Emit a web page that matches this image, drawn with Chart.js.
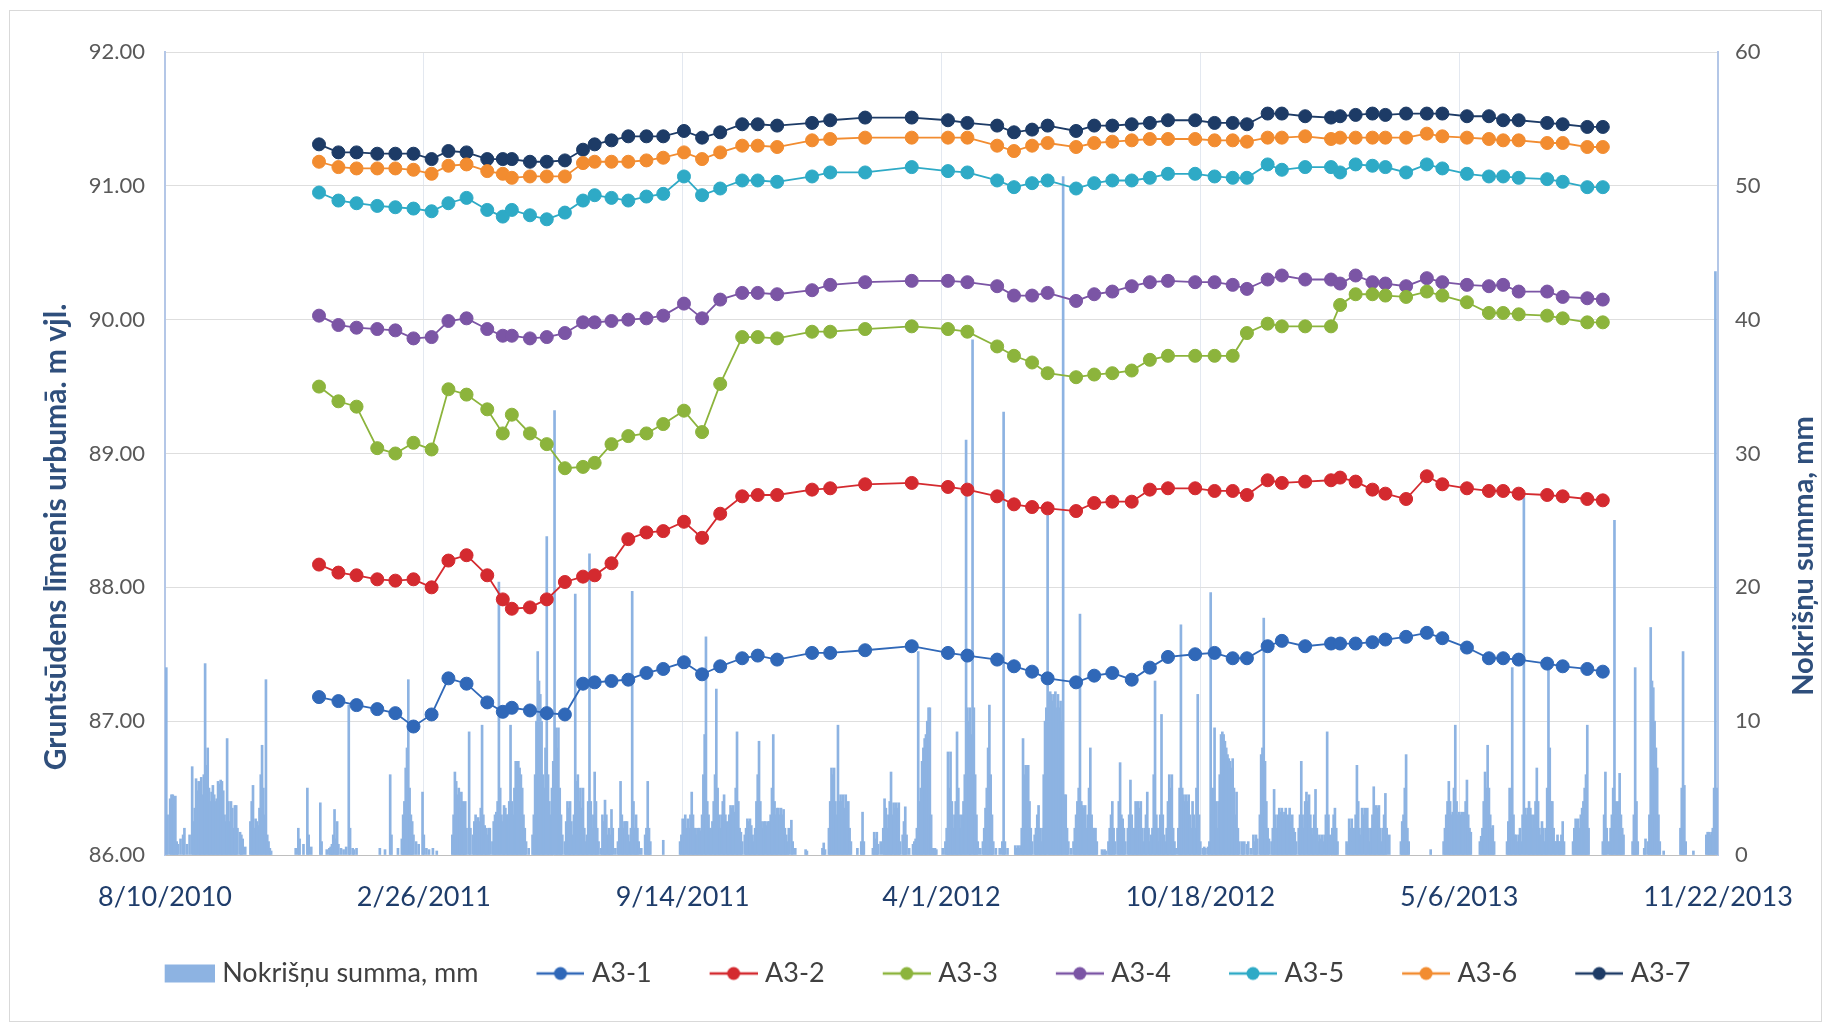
<!DOCTYPE html>
<html>
<head>
<meta charset="utf-8">
<script src="https://cdn.jsdelivr.net/npm/chart.js@4.4.1/dist/chart.umd.min.js"></script>
<style>
  html, body { margin: 0; padding: 0; background: #fff; }
  #wrap { width: 1831px; height: 1023px; }
</style>
</head>
<body>
<div id="wrap"><canvas id="gwChart" width="1831" height="1023"></canvas></div>
<script>
// observation dates of the wells
const obsDates = ['2010-12-07','2010-12-22','2011-01-05','2011-01-21','2011-02-04','2011-02-18','2011-03-04','2011-03-17','2011-03-31','2011-04-16',
  '2011-04-28','2011-05-05','2011-05-19','2011-06-01','2011-06-15','2011-06-29','2011-07-08','2011-07-21','2011-08-03','2011-08-17',
  '2011-08-30','2011-09-15','2011-09-29','2011-10-13','2011-10-30','2011-11-11','2011-11-26','2011-12-23','2012-01-06','2012-02-02',
  '2012-03-09','2012-04-06','2012-04-21','2012-05-14','2012-05-27','2012-06-10','2012-06-22','2012-07-14','2012-07-28','2012-08-11',
  '2012-08-26','2012-09-09','2012-09-23','2012-10-14','2012-10-29','2012-11-12','2012-11-23','2012-12-09','2012-12-20','2013-01-07',
  '2013-01-27','2013-02-03','2013-02-15','2013-02-28','2013-03-10','2013-03-26','2013-04-11','2013-04-23','2013-05-12','2013-05-29',
  '2013-06-09','2013-06-21','2013-07-13','2013-07-25','2013-08-13','2013-08-25'];

const a31 = [87.18,87.15,87.12,87.09,87.06,86.96,87.05,87.32,87.28,87.14,87.07,87.10,87.08,87.06,87.05,
  87.28,87.29,87.30,87.31,87.36,87.39,87.44,87.35,87.41,87.47,87.49,87.46,87.51,87.51,87.53,87.56,87.51,87.49,
  87.46,87.41,87.37,87.32,87.29,87.34,87.36,87.31,87.40,87.48,87.50,87.51,87.47,87.47,87.56,87.60,87.56,87.58,87.58,87.58,87.59,
  87.61,87.63,87.66,87.62,87.55,87.47,87.47,87.46,87.43,87.41,87.39,87.37];
const a32 = [88.17,88.11,88.09,88.06,88.05,88.06,88.00,88.20,88.24,88.09,87.91,87.84,87.85,87.91,88.04,
  88.08,88.09,88.18,88.36,88.41,88.42,88.49,88.37,88.55,88.68,88.69,88.69,88.73,88.74,88.77,88.78,88.75,88.73,
  88.68,88.62,88.60,88.59,88.57,88.63,88.64,88.64,88.73,88.74,88.74,88.72,88.72,88.69,88.80,88.78,88.79,88.80,88.82,88.79,88.73,
  88.70,88.66,88.83,88.77,88.74,88.72,88.72,88.70,88.69,88.68,88.66,88.65];
const a33 = [89.50,89.39,89.35,89.04,89.00,89.08,89.03,89.48,89.44,89.33,89.15,89.29,89.15,89.07,88.89,
  88.90,88.93,89.07,89.13,89.15,89.22,89.32,89.16,89.52,89.87,89.87,89.86,89.91,89.91,89.93,89.95,89.93,89.91,
  89.80,89.73,89.68,89.60,89.57,89.59,89.60,89.62,89.70,89.73,89.73,89.73,89.73,89.90,89.97,89.95,89.95,89.95,90.11,90.19,90.19,
  90.18,90.17,90.21,90.18,90.13,90.05,90.05,90.04,90.03,90.01,89.98,89.98];
const a34 = [90.03,89.96,89.94,89.93,89.92,89.86,89.87,89.99,90.01,89.93,89.88,89.88,89.86,89.87,89.90,
  89.98,89.98,89.99,90.00,90.01,90.03,90.12,90.01,90.15,90.20,90.20,90.19,90.22,90.26,90.28,90.29,90.29,90.28,
  90.25,90.18,90.18,90.20,90.14,90.19,90.21,90.25,90.28,90.29,90.28,90.28,90.26,90.23,90.30,90.33,90.30,90.30,90.27,90.33,90.28,
  90.27,90.25,90.31,90.28,90.26,90.25,90.26,90.21,90.21,90.17,90.16,90.15];
const a35 = [90.95,90.89,90.87,90.85,90.84,90.83,90.81,90.87,90.91,90.82,90.77,90.82,90.78,90.75,90.80,
  90.89,90.93,90.91,90.89,90.92,90.94,91.07,90.93,90.98,91.04,91.04,91.03,91.07,91.10,91.10,91.14,91.11,91.10,
  91.04,90.99,91.02,91.04,90.98,91.02,91.04,91.04,91.06,91.09,91.09,91.07,91.06,91.06,91.16,91.12,91.14,91.14,91.10,91.16,91.15,
  91.14,91.10,91.16,91.13,91.09,91.07,91.07,91.06,91.05,91.03,90.99,90.99];
const a36 = [91.18,91.14,91.13,91.13,91.13,91.12,91.09,91.15,91.16,91.11,91.09,91.06,91.07,91.07,91.07,
  91.17,91.18,91.18,91.18,91.19,91.21,91.25,91.20,91.25,91.30,91.30,91.29,91.34,91.35,91.36,91.36,91.36,91.36,
  91.30,91.26,91.30,91.32,91.29,91.32,91.33,91.34,91.35,91.35,91.35,91.34,91.34,91.33,91.36,91.36,91.37,91.35,91.36,91.36,91.36,
  91.36,91.36,91.39,91.37,91.36,91.35,91.34,91.34,91.32,91.32,91.29,91.29];
const a37 = [91.31,91.25,91.25,91.24,91.24,91.24,91.20,91.26,91.25,91.20,91.20,91.20,91.18,91.18,91.19,
  91.27,91.31,91.34,91.37,91.37,91.37,91.41,91.36,91.40,91.46,91.46,91.45,91.47,91.49,91.51,91.51,91.49,91.47,
  91.45,91.40,91.42,91.45,91.41,91.45,91.45,91.46,91.47,91.49,91.49,91.47,91.47,91.46,91.54,91.54,91.52,91.51,91.52,91.53,91.54,
  91.53,91.54,91.54,91.54,91.52,91.52,91.49,91.49,91.47,91.46,91.44,91.44];

// daily precipitation, mm: [day after 2010-08-10, mm]
const rainStart = '2010-08-10';
const rain = [
  [1,14],[2,3],[4,4.2],[5,4.5],[6,4.5],[7,3.8],[8,4.4],[9,1.0],[10,0.8],[12,1.2],[14,1.5],[15,2],[17,0.8],[19,1.5],
  [21,6.6],[22,2.5],[23,3.5],[24,5.7],[25,4.8],[26,5.5],[27,5.2],[28,5.8],[29,4.5],[30,6],[31,14.3],[32,6.7],[33,8],[34,5],
  [35,4],[36,4.7],[37,5.2],[38,4.5],[39,4],[40,4.2],[41,5.5],[42,5.3],[43,5.6],[44,5.5],[45,4.8],[46,3],[47,2.5],[48,8.7],
  [49,4],[50,2.5],[51,4],[52,3.5],[53,2],[54,3.7],[55,3.7],[56,2],[58,1.7],[59,1.5],[60,1.2],[62,0.6],[66,2.5],[67,4],
  [68,5.2],[69,2],[70,2.7],[71,2.5],[72,2.2],[73,3.5],[74,6],[75,8.2],[76,5],[77,3],[78,13.1],[79,1.5],[80,1],[81,0.5],[82,0.3],
  [101,0.5],[103,2],[104,1.2],[107,0.8],[110,5],[111,1.5],[113,0.6],[120,3.9],[121,1],[125,0.4],[127,0.5],[128,0.6],[129,0.8],
  [130,1.5],[131,3.4],[132,1.2],[133,2.5],[134,0.8],[136,0.5],[138,0.4],[140,0.6],[142,11.2],[143,2],[145,0.5],[146,0.4],[148,0.5],
  [166,0.5],[170,0.4],[174,6],[175,1.5],[180,0.5],[183,1.2],[184,3],[185,4],[186,6.5],[187,8],[188,13.1],[189,5],[190,3],[191,2.5],
  [192,1.5],[194,1],[196,0.8],[199,4.7],[200,1.5],[202,0.5],[204,0.4],[207,0.5],[210,0.3],
  [222,1.5],[223,3],[224,6.2],[225,5.5],[226,4.5],[227,5],[228,3.5],[229,4.7],[230,4],[231,2.5],[232,4],[233,2],[235,9.2],[236,2],
  [238,1.5],[239,2.5],[240,3],[241,2.5],[242,2.8],[243,2.5],[244,3.5],[245,9.7],[246,3],[247,2.2],[248,2],[249,1.5],[250,2],[251,2],
  [253,1],[254,2.5],[255,3],[256,3.2],[257,4],[258,20.4],[259,5],[260,3],[261,2.5],[262,3.7],[263,3.5],[264,3],[265,3],[266,4],
  [267,9.7],[268,4],[269,3],[270,5],[271,7],[272,6.5],[273,7],[274,6.5],[275,6],[276,5],[277,3],[278,2],[279,1],[281,0.5],
  [284,1.5],[285,3],[286,6],[287,10],[288,15.2],[289,13],[290,12],[291,10],[292,6],[293,5],[294,8],[295,23.8],[296,6],[297,4],
  [298,3],[299,5],[300,7],[301,33.2],[302,9.5],[303,8],[304,9.5],[305,5],[306,3],[307,1.5],[309,1],[310,2.5],[311,4],[312,3.5],
  [313,4],[314,2.5],[315,1.5],[316,3],[317,19.5],[318,5.5],[319,6],[320,4],[321,5],[322,3.5],[323,5],[324,2],[325,1],[326,1.5],
  [327,4],[328,22.5],[329,4],[330,2],[331,3],[332,6.2],[333,4],[334,2],[335,1],[337,0.5],[338,3],[339,2.5],[340,4.1],[341,3],
  [342,1.5],[343,2],[344,1.5],[345,3.4],[346,2],[348,0.5],[350,1],[351,2],[352,5.5],[353,3],[354,2],[355,2.5],[356,2.5],[357,2.5],
  [358,1.5],[359,1],[360,2],[361,19.7],[362,4],[363,2],[364,3],[365,2],[366,1],[368,0.5],[371,1.5],[372,2],[373,5.5],[374,2],
  [375,1],[385,1.1],
  [398,1],[399,1.5],[400,2.7],[401,2.5],[402,3],[403,2],[404,2.7],[405,2],[406,3],[407,4.7],[408,3],[409,2],[410,2],[411,1.5],
  [412,2],[413,2],[414,1.8],[415,3],[416,6],[417,9],[418,16.3],[419,4],[420,3],[421,2],[422,2],[423,2.5],[424,4],[425,6],
  [426,12.4],[427,5],[428,3],[429,2],[430,3],[431,4],[432,4.5],[433,3],[434,2.5],[435,2],[436,3],[437,3.7],[438,3.5],[439,3.7],
  [440,3.2],[441,5],[442,9.2],[443,4],[444,2],[445,1.7],[446,1],[448,1.5],[449,2],[450,2.7],[451,2.5],[452,2.7],[453,2.2],
  [454,1.5],[455,1],[456,2],[457,4],[458,6],[459,8.5],[460,4],[461,2.5],[462,2],[463,2.5],[464,2.5],[465,2.2],[466,2.5],
  [467,2.5],[468,3],[469,5],[470,9],[471,4],[472,3],[473,3.5],[474,3.5],[475,3],[476,3.5],[477,3],[478,3.4],[479,2],[480,1.5],
  [481,1],[482,2],[484,2.6],[485,1],[487,0.5],[495,0.4],[496,0.3],[508,0.5],[509,0.9],[510,0.4],
  [513,2],[514,4],[515,6.5],[516,6],[517,6.5],[518,4],[519,3],[520,9.7],[521,4],[522,4.5],[523,4],[524,4.5],[525,3.5],[526,4.5],
  [527,3],[528,4],[529,2],[530,1],[535,0.5],[538,1],[539,3.2],[540,1],
  [547,0.5],[548,1.7],[549,1.2],[550,1.7],[551,0.8],[553,1],[555,2],[556,4.2],[557,3.5],[558,2],[559,3],[560,4],[561,6.2],
  [562,3],[563,3.9],[564,3.5],[565,3.9],[566,3.5],[567,3.9],[568,1],[570,1.5],[571,2.5],[572,3.6],[573,1.5],[575,0.5],
  [578,0.8],[579,1],[580,1.2],[581,2],[582,15.2],[583,4],[584,5],[585,7],[586,8],[587,8.7],[588,9],[589,10],[590,11],[591,11],
  [592,3],[593,0.5],[594,0.5],[595,0.5],[596,0.4],
  [601,0.5],[603,1],[604,2],[605,7.7],[606,5],[607,7.7],[608,4],[609,2],[610,3],[611,4],[612,9.2],[613,5],[614,3],[615,2],
  [616,3],[617,4],[618,6],[619,31],[620,11],[621,10],[622,11],[623,9],[624,38.5],[625,11],[626,6],[627,3],[628,1],[630,0.5],
  [632,1],[633,2],[634,3.5],[635,5],[636,8],[637,11.2],[638,6],[639,3],[640,1],[642,0.5],[645,0.5],[647,1],[648,33.1],[649,1],
  [651,0.5],[657,0.7],[658,0.5],[659,0.7],[660,0.5],[661,0.7],[662,2],[663,8.7],[664,6],[665,6.7],[666,6.5],[667,6.7],[668,4],
  [669,2],[670,1],[672,1.5],[673,2],[674,3],[675,3.7],[676,2],[677,1],[678,2],[679,6],[680,10],[681,11],[682,25.4],[683,12],
  [684,12.2],[685,12],[686,11.5],[687,12],[688,12.2],[689,11],[690,12],[691,11],[692,11.5],[693,10],[694,50.7],[695,4.5],
  [696,4.5],[697,2],[698,1],[700,0.5],[702,1],[703,2],[704,3],[705,4],[706,5],[707,18],[708,4],[709,3.7],[710,3.5],[711,3.7],
  [712,2],[713,3],[714,5],[715,8],[716,3],[717,2],[718,2],[719,2],[720,1],
  [724,0.4],[725,0.3],[726,0.4],[727,0.3],[729,1],[730,2],[731,3],[732,4],[733,2],[734,1],[736,2],[737,4],[738,6.9],[739,3],
  [740,2.7],[741,2],[742,1],[744,2],[745,3],[746,5.6],[747,3],[748,1.5],[749,2],[750,4],[751,3.8],[752,4],[753,3.5],[754,4],
  [755,2],[756,1],[757,2],[758,3],[759,4.7],[760,2],[761,1],[762,1.5],[763,2],[764,6],[765,13],[766,3],[767,2],[768,1],[769,3],
  [770,10.5],[771,3],[772,1.5],[773,1],[774,2],[775,4],[776,6],[777,5],[778,6],[779,2],[780,1],[781,0.5],[783,2],[784,5],
  [785,17.2],[786,5],[787,4.5],[788,4],[789,4.5],[790,4],[791,4.5],[792,3],[793,2],[794,4],[795,3],[796,2],[797,5],[798,12],
  [799,3],[800,1],[802,0.5],[803,0.6],[804,0.5],[806,0.6],[807,1],[808,19.6],[809,3],[810,5],[811,9.5],[812,4],[813,2],[814,4],
  [815,6],[816,9],[817,9.2],[818,9],[819,8.5],[820,8],[821,7.5],[822,7.2],[823,7],[824,6.5],[825,7.2],[826,5],[827,3],[828,4.7],
  [829,2],[830,1],[832,1],[833,0.8],[834,1],[836,0.8],[837,1],[839,0.5],[841,1.5],[842,1],[843,1.5],[844,1.2],[846,3],[847,7.5],
  [848,8],[849,17.7],[850,7],[851,4],[852,2],[853,1.2],[855,1],[856,2],[857,4.9],[858,3],[859,2],[860,3],[861,3.5],[862,3.2],
  [863,3.5],[864,3],[865,3.2],[866,3.5],[867,2.8],[868,3],[869,3.5],[870,2.5],[871,3],[872,2],[873,1.7],[874,1],[876,2],[877,3],
  [878,7],[879,3],[880,2],[881,4],[882,4.7],[883,4],[884,4.5],[885,3],[886,2],[887,1.5],[888,3],[889,4.9],[890,2],[891,1],
  [892,1.5],[893,1.2],[894,1.5],[895,1],[896,1.5],[897,3],[898,9.2],[899,3],[900,1.5],[901,1],[902,2],[903,3],[904,3.5],[905,2],
  [906,1],[913,1],[914,0.8],[915,2.7],[916,2],[917,2.7],[918,1],[919,2],[920,3],[921,6.7],[922,4],[923,2],[924,1.5],[925,3.5],
  [926,3],[927,3.5],[928,3],[929,3.5],[930,2],[931,1],[932,2],[933,3],[934,5.1],[935,3.5],[936,3.7],[937,3.5],[938,3.7],[939,2],
  [940,1],[941,2],[942,3],[943,4.6],[944,2],[946,1.5],[955,1],[956,2.5],[957,3],[958,5],[959,7.5],[960,2],[961,1],[978,0.4],
  [988,1],[989,2],[990,3],[991,4],[992,5.5],[993,4],[994,3],[995,3.2],[996,5],[997,9.7],[998,4],[999,3],[1000,3.2],[1001,3],
  [1002,3.2],[1003,3],[1004,3.2],[1005,4],[1006,5.6],[1007,3],[1008,2],[1009,1.7],
  [1016,1],[1017,1.4],[1018,2],[1019,4],[1020,6.2],[1021,5],[1022,8.2],[1023,5],[1024,3],[1025,2],[1026,2.2],[1027,1],
  [1037,1],[1038,2.5],[1039,5],[1040,3],[1041,14],[1042,3],[1043,1.5],[1044,1.5],[1045,1],[1046,1.5],[1047,2],[1048,1],[1049,3],
  [1050,26.7],[1051,3.5],[1052,3],[1053,3.5],[1054,4],[1055,3.5],[1056,3],[1057,2],[1058,3],[1059,4],[1060,6.5],[1061,4],
  [1062,2],[1063,1.5],[1064,2.5],[1065,2],[1066,1],[1067,2],[1068,5],[1069,13.9],[1070,8],[1071,4],[1072,4],[1073,2],[1074,1],
  [1075,1],[1076,1.5],[1077,1],[1078,1],[1079,1.5],[1080,2.5],[1081,1],
  [1088,1],[1089,2],[1090,2.7],[1091,2.5],[1092,2.7],[1093,2],[1094,3],[1095,3.5],[1096,4],[1097,5],[1098,6],[1099,9.7],[1100,2],
  [1111,1],[1112,3],[1113,6.2],[1114,2],[1116,1],[1117,2],[1118,3],[1119,5],[1120,25],[1121,4],[1122,3],[1123,4],[1124,6.1],
  [1125,3],[1126,2],[1127,1.5],[1134,1],[1135,3],[1136,14],[1137,4],[1138,1],
  [1143,0.5],[1144,1.2],[1146,1],[1147,3],[1148,17],[1149,13],[1150,12.5],[1151,10],[1152,8],[1153,6.5],[1154,3],[1155,1],[1158,0.3],
  [1171,2],[1172,5],[1173,15.2],[1174,5.2],[1175,1],[1181,0.3],
  [1191,1.5],[1192,1.7],[1193,1.7],[1194,1.5],[1195,1.7],[1196,2],[1197,5],[1198,43.6],[1199,5]
];

const wellNames = ['A3-1','A3-2','A3-3','A3-4','A3-5','A3-6','A3-7'];
const wellColors = ['#3068b8','#d42a2f','#8cb43c','#7b55a5','#2eaac6','#f28c30','#1d3b66'];
const wellSeries = [a31, a32, a33, a34, a35, a36, a37];
const xTickDays = [0, 200, 400, 600, 800, 1000, 1200];
const rainLabel = 'Nokrišņu summa, mm';
const leftTitle = 'Gruntsūdens līmenis urbumā. m vjl.';
const rightTitle = 'Nokrišņu summa, mm';

const FONT = 'Lato';
const DAY = 86400000;
const base = Date.parse(rainStart + 'T00:00:00Z');
const toDay = s => Math.round((Date.parse(s + 'T00:00:00Z') - base) / DAY);
const dayLabel = d => {
  const t = new Date(base + d * DAY);
  return (t.getUTCMonth() + 1) + '/' + t.getUTCDate() + '/' + t.getUTCFullYear();
};

const obsDays = obsDates.map(toDay);

// legend markers (Excel-like line+dot, or filled box)
const MARK_W = 104;
function lineMark(color) {
  const c = document.createElement('canvas');
  c.width = MARK_W; c.height = 20;
  const g = c.getContext('2d');
  const x0 = MARK_W - 48;
  g.strokeStyle = color; g.lineWidth = 2.5;
  g.beginPath(); g.moveTo(x0, 10); g.lineTo(MARK_W, 10); g.stroke();
  g.fillStyle = color;
  g.beginPath(); g.arc(x0 + 24, 10, 6.5, 0, Math.PI * 2); g.fill();
  return c;
}
function boxMark(color) {
  const c = document.createElement('canvas');
  c.width = MARK_W; c.height = 20;
  const g = c.getContext('2d');
  g.fillStyle = color;
  g.fillRect(MARK_W - 50, 1, 50, 18);
  return c;
}

const datasets = [{
  type: 'bar',
  label: rainLabel,
  data: rain.map(r => ({ x: r[0], y: r[1] })),
  yAxisID: 'y1',
  backgroundColor: '#8db3e2',
  borderWidth: 0,
  barThickness: 2,
  order: 1
}];
wellNames.forEach((name, i) => {
  datasets.push({
    type: 'line',
    label: name,
    data: obsDays.map((d, k) => ({ x: d, y: wellSeries[i][k] })),
    yAxisID: 'y',
    borderColor: wellColors[i],
    backgroundColor: wellColors[i],
    borderWidth: 1.8,
    pointRadius: 6.5,
    pointBorderWidth: 1,
    pointBackgroundColor: wellColors[i],
    pointBorderColor: wellColors[i],
    tension: 0,
    order: 0
  });
});

const chartDecor = {
  id: 'chartDecor',
  afterLayout(chart) {
    // nudge the legend row a little to the left, like the original
    chart.legend.left -= 12;
    chart.legend.right -= 12;
  },
  beforeDraw(chart) {
    const { ctx, width, height } = chart;
    ctx.save();
    ctx.fillStyle = '#ffffff';
    ctx.fillRect(0, 0, width, height);
    ctx.strokeStyle = '#d9d9d9';
    ctx.lineWidth = 1;
    ctx.strokeRect(9.5, 10.5, width - 19, height - 12);
    ctx.restore();
  },
  afterDraw(chart) {
    const { ctx, chartArea } = chart;
    ctx.save();
    ctx.font = 'bold 30px ' + FONT;
    ctx.fillStyle = '#2f4f7c';
    ctx.textAlign = 'center';
    ctx.textBaseline = 'middle';
    ctx.translate(chartArea.left - 109, chartArea.top + 485);
    ctx.rotate(-Math.PI / 2);
    ctx.fillText(leftTitle, 0, 0);
    ctx.restore();
    ctx.save();
    ctx.font = 'bold 29px ' + FONT;
    ctx.fillStyle = '#2f4f7c';
    ctx.textAlign = 'center';
    ctx.textBaseline = 'middle';
    ctx.translate(chartArea.right + 86, chartArea.top + 504);
    ctx.rotate(-Math.PI / 2);
    ctx.fillText(rightTitle, 0, 0);
    ctx.restore();
  }
};

new Chart(document.getElementById('gwChart'), {
  type: 'line',
  data: { datasets },
  options: {
    responsive: false,
    animation: false,
    layout: { padding: { top: 52, left: 0, right: 0, bottom: 26 } },
    plugins: {
      legend: {
        position: 'bottom',
        labels: {
          usePointStyle: true,
          pointStyleWidth: MARK_W - 12,
          color: '#404040',
          padding: 8,
          font: { family: FONT, size: 27 },
          generateLabels: chart => chart.data.datasets.map((ds, i) => ({
            text: ds.label,
            fillStyle: ds.backgroundColor,
            strokeStyle: ds.backgroundColor,
            lineWidth: 0,
            hidden: false,
            datasetIndex: i,
            fontColor: '#404040',
            pointStyle: ds.type === 'bar' ? boxMark(ds.backgroundColor) : lineMark(ds.borderColor)
          }))
        }
      },
      tooltip: { enabled: false }
    },
    scales: {
      x: {
        type: 'linear',
        min: 0,
        max: 1200,
        offset: false,
        afterBuildTicks: s => { s.ticks = xTickDays.map(v => ({ value: v })); },
        ticks: {
          callback: v => dayLabel(v),
          color: '#1f3d6b',
          font: { family: FONT, size: 27 },
          padding: 26,
          maxRotation: 0,
          autoSkip: false
        },
        grid: { color: '#e3e8f0', drawTicks: false, offset: false },
        border: { color: '#bfbfbf', width: 1 },
        afterFit: s => { s.height = 97; }
      },
      y: {
        position: 'left',
        min: 86,
        max: 92,
        ticks: {
          stepSize: 1,
          callback: v => v.toFixed(2),
          color: '#595959',
          font: { family: FONT, size: 22 },
          padding: 20
        },
        grid: { color: '#dedede', drawTicks: false },
        border: { color: '#b4c7e7', width: 2 },
        afterFit: s => { s.width = 165; }
      },
      y1: {
        position: 'right',
        min: 0,
        max: 60,
        ticks: {
          stepSize: 10,
          color: '#595959',
          font: { family: FONT, size: 22 },
          padding: 17
        },
        grid: { drawOnChartArea: false, drawTicks: false },
        border: { color: '#b4c7e7', width: 2 },
        afterFit: s => { s.width = 113; }
      }
    }
  },
  plugins: [chartDecor]
});
</script>
</body>
</html>
